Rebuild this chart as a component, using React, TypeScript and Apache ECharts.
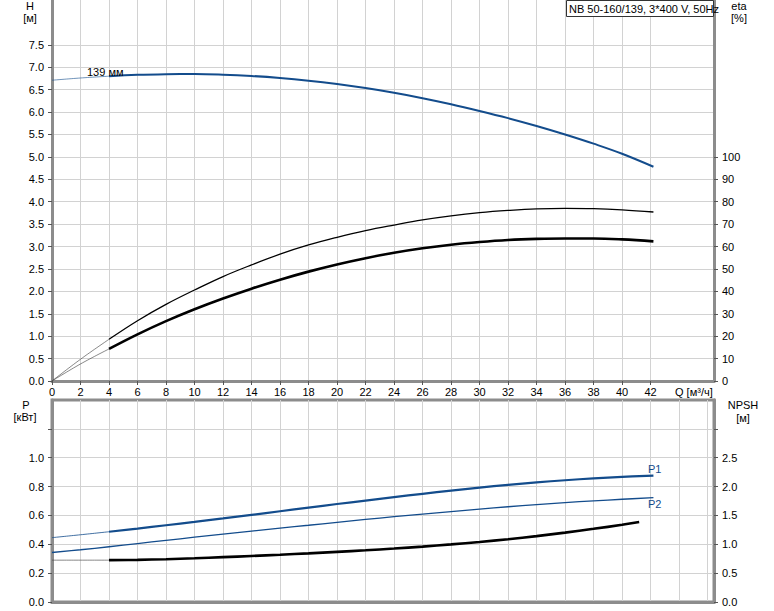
import React, { useEffect, useRef } from "react";
import * as echarts from "echarts";

// ---- data ----
const qPoints = [0, 2, 4, 6, 8, 10, 12, 14, 16, 18, 20, 22, 24, 26, 28, 30, 32, 34, 36, 38, 40, 42.2];
const headH = [6.71, 6.76, 6.8, 6.83, 6.845, 6.85, 6.835, 6.805, 6.76, 6.7, 6.625, 6.535, 6.43, 6.31, 6.175, 6.025, 5.865, 5.69, 5.5, 5.295, 5.07, 4.78];
const etaPump = [0, 9.7, 18.6, 26.9, 34.2, 40.6, 46.6, 51.8, 56.6, 60.7, 64.1, 67.1, 69.6, 71.9, 73.7, 75.1, 76.1, 76.8, 77.0, 76.9, 76.4, 75.4];
const etaTotal = [0, 7.6, 14.3, 20.8, 26.7, 32.0, 36.8, 41.2, 45.2, 48.8, 52.0, 54.8, 57.2, 59.2, 60.8, 62.0, 62.9, 63.4, 63.6, 63.6, 63.2, 62.3];
const powerP1 = [0.446, 0.466, 0.487, 0.509, 0.532, 0.555, 0.579, 0.604, 0.629, 0.654, 0.679, 0.703, 0.727, 0.75, 0.772, 0.793, 0.812, 0.829, 0.844, 0.857, 0.867, 0.876];
const powerP2 = [0.343, 0.362, 0.383, 0.405, 0.427, 0.449, 0.47, 0.491, 0.512, 0.532, 0.552, 0.572, 0.591, 0.609, 0.627, 0.644, 0.66, 0.675, 0.689, 0.701, 0.712, 0.723];
const qNpsh = [0, 2, 4, 6, 8, 10, 12, 14, 16, 18, 20, 22, 24, 26, 28, 30, 32, 34, 36, 38, 40, 41.2];
const npshVals = [0.725, 0.725, 0.725, 0.73, 0.742, 0.758, 0.777, 0.797, 0.819, 0.843, 0.869, 0.896, 0.926, 0.96, 0.998, 1.04, 1.088, 1.142, 1.202, 1.268, 1.338, 1.385];

const qTickLabels = [0, 2, 4, 6, 8, 10, 12, 14, 16, 18, 20, 22, 24, 26, 28, 30, 32, 34, 36, 38, 40, 42];
const hTicks = [0, 0.5, 1, 1.5, 2, 2.5, 3, 3.5, 4, 4.5, 5, 5.5, 6, 6.5, 7, 7.5];
const etaTicks = [0, 10, 20, 30, 40, 50, 60, 70, 80, 90, 100];
const pLabels = [0, 0.2, 0.4, 0.6, 0.8, 1.0];
const pTicks = [0, 0.2, 0.4, 0.6, 0.8, 1.0, 1.2];
const npshLabels = [0, 0.5, 1.0, 1.5, 2.0, 2.5];
const npshTicks = [0, 0.5, 1.0, 1.5, 2.0, 2.5, 3.0];

const titleText = "NB 50-160/139, 3*400 V, 50Hz";
const curveLabel = "139 мм";

const THIN_END = 4;
const pairs = (xs: number[], ys: number[]) => xs.map((x, i) => [x, ys[i]]);
const thin = (xs: number[], ys: number[]) => pairs(xs, ys).filter((p) => p[0] <= THIN_END);
const thick = (xs: number[], ys: number[]) => pairs(xs, ys).filter((p) => p[0] >= THIN_END);

const BLUE = "#134c8c";
const AXIS = "#8c8c8c";
const GRID = "#d2d2d2";
const FONT = "Liberation Sans, Arial, sans-serif";

export default function App() {
  const ref = useRef<HTMLDivElement>(null);
  useEffect(() => {
    if (!ref.current) return;
    const chart = echarts.init(ref.current, undefined, { renderer: "svg" });
    const axisLine = { show: true, lineStyle: { color: AXIS, width: 3 } };
    const tick = { show: true, length: 4, lineStyle: { color: "#555", width: 1 } };
    const label = { color: "#000", fontSize: 11, fontFamily: FONT };
    const split = { show: true, lineStyle: { color: GRID, width: 1 } };
    const line = (name: string, data: number[][], color: string, width: number, xi: number, yi: number, opacity = 1) => ({
      name,
      type: "line",
      data,
      xAxisIndex: xi,
      yAxisIndex: yi,
      smooth: 0.4,
      showSymbol: false,
      symbol: "none",
      lineStyle: { color, width, opacity },
      z: 5,
    });
    const txt = (text: string, x: number, y: number, align = "center", fill = "#000") => ({
      type: "text",
      x,
      y,
      z: 20,
      style: { text, fill, font: `11px ${FONT}`, textAlign: align, textVerticalAlign: "middle" },
    });
    chart.setOption({
      animation: false,
      backgroundColor: "#fff",
      grid: [
        { left: 52, top: 0, width: 662, height: 381, containLabel: false },
        { left: 52, top: 400, width: 662, height: 202, show: true, borderColor: AXIS, borderWidth: 3, backgroundColor: "transparent" },
      ],
      xAxis: [
        {
          type: "value", gridIndex: 0, min: 0, max: 46.45, interval: 2,
          axisLine, axisTick: { ...tick, customValues: qTickLabels },
          axisLabel: { ...label, margin: 5, customValues: qTickLabels, formatter: (v: number) => (v <= 42 ? String(v) : "") },
          splitLine: split,
        },
        {
          type: "value", gridIndex: 1, min: 0, max: 46.45, interval: 2,
          axisLine, axisTick: { show: false }, axisLabel: { show: false }, splitLine: split,
        },
      ],
      yAxis: [
        {
          type: "value", gridIndex: 0, min: 0, max: 8.5, interval: 0.5, position: "left",
          axisLine, axisTick: { ...tick, customValues: hTicks },
          axisLabel: { ...label, margin: 8, customValues: hTicks, formatter: (v: number) => (v <= 7.5 ? v.toFixed(1) : "") },
          splitLine: split,
        },
        {
          type: "value", gridIndex: 0, min: 0, max: 170, interval: 10, position: "right",
          axisLine, axisTick: { ...tick, customValues: etaTicks },
          axisLabel: { ...label, margin: 8, customValues: etaTicks, formatter: (v: number) => (v <= 100 ? String(v) : "") },
          splitLine: { show: false },
        },
        {
          type: "value", gridIndex: 1, min: 0, max: 1.4, interval: 0.2, position: "left",
          axisLine, axisTick: { ...tick, customValues: pTicks },
          axisLabel: { ...label, margin: 8, customValues: pLabels, formatter: (v: number) => (v <= 1.0001 ? v.toFixed(1) : "") },
          splitLine: split,
        },
        {
          type: "value", gridIndex: 1, min: 0, max: 3.5, interval: 0.5, position: "right",
          axisLine, axisTick: { ...tick, customValues: npshTicks },
          axisLabel: { ...label, margin: 8, customValues: npshLabels, formatter: (v: number) => (v <= 2.5 ? v.toFixed(1) : "") },
          splitLine: { show: false },
        },
      ],
      series: [
        line("H thin", thin(qPoints, headH), BLUE, 1, 0, 0, 0.6),
        line("H", thick(qPoints, headH), BLUE, 2, 0, 0),
        line("eta pump thin", thin(qPoints, etaPump), "#444", 0.8, 0, 1, 0.8),
        line("eta pump", thick(qPoints, etaPump), "#000", 1.3, 0, 1),
        line("eta total thin", thin(qPoints, etaTotal), "#444", 0.8, 0, 1, 0.8),
        line("eta total", thick(qPoints, etaTotal), "#000", 2.6, 0, 1),
        line("P1 thin", thin(qPoints, powerP1), BLUE, 1, 1, 2, 0.8),
        line("P1", thick(qPoints, powerP1), BLUE, 2.2, 1, 2),
        line("P2", pairs(qPoints, powerP2), BLUE, 1.3, 1, 2),
        line("NPSH thin", thin(qNpsh, npshVals), "#444", 0.8, 1, 3, 0.8),
        line("NPSH", thick(qNpsh, npshVals), "#000", 2.6, 1, 3),
      ],
      graphic: [
        { type: "rect", z: 19, shape: { x: 566.5, y: 0.5, width: 147, height: 16 }, style: { fill: "#fff", stroke: "#333", lineWidth: 1 } },
        txt(titleText, 569, 9, "left"),
        txt("H", 30, 6),
        txt("[м]", 30, 18),
        txt("eta", 739, 6),
        txt("[%]", 739, 18),
        txt("P", 26, 405),
        txt("[кВт]", 25, 417),
        txt("NPSH", 743, 405),
        txt("[м]", 743, 418),
        txt("Q [м³/ч]", 675, 392, "left"),
        txt(curveLabel, 87, 72, "left"),
        txt("P1", 648, 469, "left", BLUE),
        txt("P2", 648, 504, "left", BLUE),
      ],
    });
    return () => chart.dispose();
  }, []);
  return <div ref={ref} style={{ position: "fixed", left: 0, top: 0, width: 774, height: 611 }} />;
}
